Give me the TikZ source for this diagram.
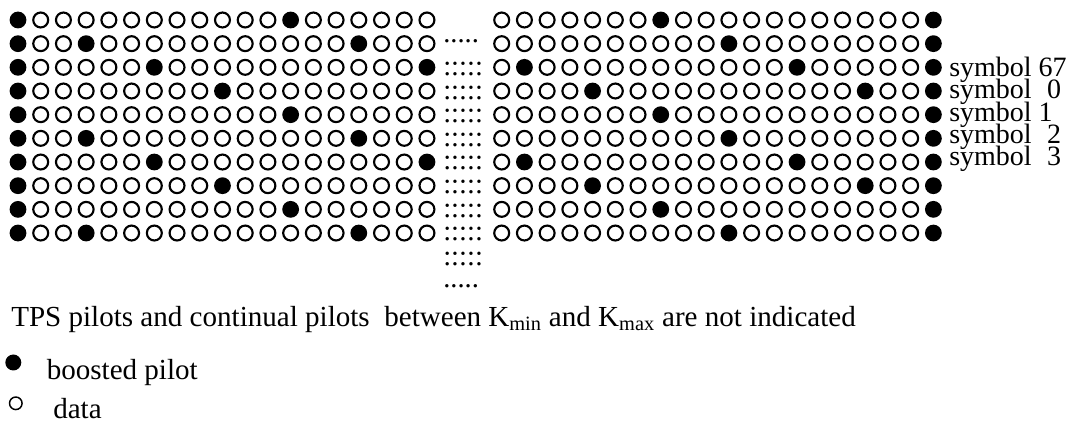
\documentclass[tikz,border=0pt]{standalone}
\usepackage{fontspec}
\setmainfont{Liberation Serif}
\begin{document}
\begin{tikzpicture}[x=0.75pt,y=-0.75pt,
  pilot/.style={fill=black},
  datac/.style={draw=black,line width=1.6pt},
  txt/.style={anchor=base west,inner sep=0pt,font=\fontsize{21.8}{24}\selectfont},
  lbl/.style={anchor=base west,inner sep=0pt,font=\fontsize{21}{24}\selectfont},
  dots/.style={anchor=base west,inner sep=0pt,font=\fontsize{21.4}{24}\selectfont}]
\useasboundingbox (0,0) rectangle (1074,423);
% left block
\foreach \r in {0,...,9}{
  \foreach \c in {0,...,18}{
    \pgfmathtruncatemacro\f{(\c==0)||(mod(\c+48-3*mod(\r,4),12)==0)}
    \ifnum\f=1
      \fill[pilot] (18+22.72*\c,20+23.67*\r) circle[radius=6.3pt];
    \else
      \draw[datac] (18+22.72*\c,20+23.67*\r) circle[radius=5.6pt];
    \fi
  }
}
% right block
\foreach \r in {0,...,9}{
  \foreach \c in {0,...,19}{
    \pgfmathtruncatemacro\f{(\c==19)||(mod(\c+48-7-3*mod(\r,4),12)==0)}
    \ifnum\f=1
      \fill[pilot] (501.7+22.72*\c,20+23.67*\r) circle[radius=6.3pt];
    \else
      \draw[datac] (501.7+22.72*\c,20+23.67*\r) circle[radius=5.6pt];
    \fi
  }
}
% ellipsis dots between the blocks
\node[dots] (d1) at (443,43) {.....};
\foreach \b [count=\i] in {75.3,99.6,122.3,147,169.6,193.6,218,240.6,265.3}{
  \node[dots] (c\i) at (443,\b) {:::::};
}
\node[dots] (d2) at (443,288) {.....};
% symbol labels
\node[lbl] (s67) at (949,77) {symbol 67};
\node[lbl] (s0) at (949,99) {symbol\hspace{0.55em}0};
\node[lbl] (s1) at (949,121.5) {symbol 1};
\node[lbl] (s2) at (949,143.5) {symbol\hspace{0.55em}2};
\node[lbl] (s3) at (949,165.5) {symbol\hspace{0.55em}3};
% caption
\node[txt] (cap) at (11,326.7) {TPS pilots and continual pilots\ \ between K\textsubscript{min} and K\textsubscript{max} are not indicated};
% legend
\fill[pilot] (13.3,362.5) circle[radius=6pt] node[coordinate] (lp) {};
\node[txt] (lpt) at (46.5,380) {boosted pilot};
\draw[black,line width=1.1pt] (15.8,403.3) circle[radius=4.7pt] node[coordinate] (ld) {};
\node[txt] (ldt) at (53,418.3) {data};
\end{tikzpicture}
\end{document}
